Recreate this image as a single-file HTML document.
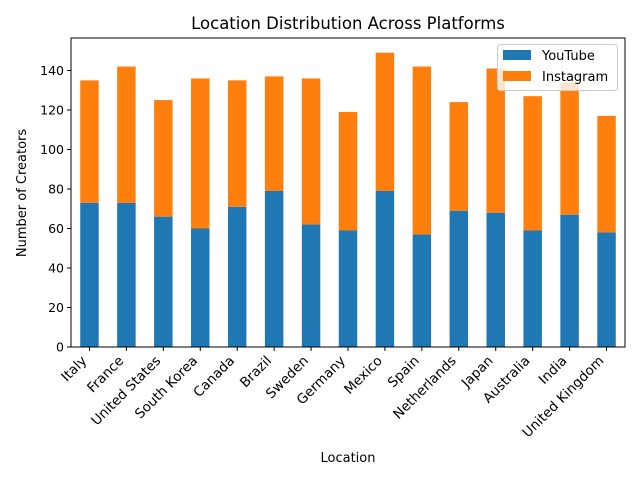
<!DOCTYPE html>
<html><head><meta charset="utf-8"><style>
body{margin:0;background:#fff;}
text{font-family:"DejaVu Sans","Liberation Sans",sans-serif;}
</style></head><body>
<svg id="chart" width="640" height="480" xmlns="http://www.w3.org/2000/svg">
<rect width="640" height="480" fill="#fff"/>
<text x="348" y="29" font-size="16.5" text-anchor="middle">Location Distribution Across Platforms</text>
<g id="bars"></g>
<g id="axes"></g>
<text x="348" y="462" font-size="13" text-anchor="middle">Location</text>
<text transform="translate(26,193) rotate(-90)" font-size="13" text-anchor="middle">Number of Creators</text>
<g>
<rect x="497.5" y="44.5" width="120" height="46" rx="3" fill="#fff" fill-opacity="0.8" stroke="#ccc"/>
<rect x="503" y="50" width="28" height="10" fill="#1f77b4"/>
<text x="542" y="60" font-size="13">YouTube</text>
<rect x="503" y="71" width="28" height="10" fill="#ff7f0e"/>
<text x="542" y="81" font-size="13">Instagram</text>
</g>
</svg>
<script>
const categories=["Italy","France","United States","South Korea","Canada","Brazil","Sweden","Germany","Mexico","Spain","Netherlands","Japan","Australia","India","United Kingdom"];
const youtube=[73,73,66,60,71,79,62,59,79,57,69,68,59,67,58];
const totals=[135,142,125,136,135,137,136,119,149,142,124,141,127,134,117];
const yTicks=[0,20,40,60,80,100,120,140];
const NS="http://www.w3.org/2000/svg";
const L=71,R=625,T=38,B=347;
const yMax=156.45;
function y(v){return B-(v/yMax)*(B-T);}
function x(i){return L+(i+0.5)*(R-L)/categories.length;}
const bw=0.5*(R-L)/categories.length;
const bars=document.getElementById('bars'),axes=document.getElementById('axes');
function mk(tag,attrs,parent){const e=document.createElementNS(NS,tag);for(const k in attrs)e.setAttribute(k,attrs[k]);parent.appendChild(e);return e;}
categories.forEach((c,i)=>{
 const insta=totals[i]-youtube[i];
 const r1=mk('rect',{x:x(i)-bw/2,y:y(youtube[i]),width:bw,height:y(0)-y(youtube[i]),fill:'#1f77b4'},bars);
 
 
 const r2=mk('rect',{x:x(i)-bw/2,y:y(youtube[i]+insta),width:bw,height:y(youtube[i])-y(youtube[i]+insta),fill:'#ff7f0e'},bars);
 
 
 mk('line',{x1:x(i),x2:x(i),y1:B,y2:B+4,stroke:'#000'},axes);
 const t=mk('text',{transform:`translate(${x(i)-2},${B+14.5}) rotate(-45)`,'font-size':13.5,'text-anchor':'end'},axes);
 t.textContent=c;
 
 
});
yTicks.forEach(v=>{
 mk('line',{x1:L-4,x2:L,y1:y(v),y2:y(v),stroke:'#000'},axes);
 const t=mk('text',{x:L-7,y:y(v)+4.5,'font-size':12.5,'text-anchor':'end'},axes);
 t.textContent=v;
 
 
});
const f=mk('rect',{x:L,y:T,width:R-L,height:B-T,fill:'none',stroke:'#000','stroke-width':1},axes);


</script>
</body></html>
